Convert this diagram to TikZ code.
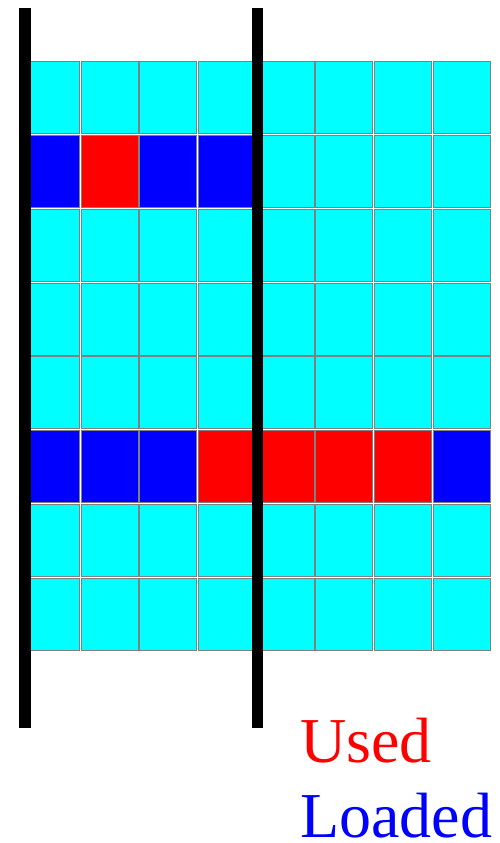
\documentclass[tikz,border=0pt]{standalone}
\usepackage{fontspec}
\setmainfont{Liberation Serif}
\usepackage{tikz}
\definecolor{CellCyan}{RGB}{0,255,255}
\definecolor{CellBlue}{RGB}{0,0,255}
\definecolor{CellRed}{RGB}{255,0,0}
\tikzset{
  % Grid cell: coloured square with a thin grey rim
  cell/.style={fill=#1, draw=gray, line width=0.9pt},
  % Thick black divider
  divider/.style={fill=black},
  % Legend word
  legend/.style={anchor=base west, inner sep=0pt, text=#1,
    font=\fontsize{64}{70}\selectfont}
}
\newcommand{\cellw}{58.7}
\newcommand{\cellh}{73.75}

\begin{document}
\begin{tikzpicture}[x=1pt,y=-1pt]
  \useasboundingbox (0,0) rectangle (500,843);

  % 8 x 8 grid, all cyan first
  \foreach \r in {0,...,7}
    \foreach \c in {0,...,7}
      \filldraw[cell=CellCyan] ({21.5+\c*\cellw+0.9},{61+\r*\cellh+0.9})
        rectangle ({21.5+(\c+1)*\cellw-0.9},{61+(\r+1)*\cellh-0.9});

  % Row 2
  \foreach \c/\col in {0/CellBlue,1/CellRed,2/CellBlue,3/CellBlue}
    \filldraw[cell=\col] ({21.5+\c*\cellw+0.9},{61+1*\cellh+0.9})
      rectangle ({21.5+(\c+1)*\cellw-0.9},{61+2*\cellh-0.9});

  % Row 6
  \foreach \c/\col in {0/CellBlue,1/CellBlue,2/CellBlue,3/CellRed,4/CellRed,5/CellRed,6/CellRed,7/CellBlue}
    \filldraw[cell=\col] ({21.5+\c*\cellw+0.9},{61+5*\cellh+0.9})
      rectangle ({21.5+(\c+1)*\cellw-0.9},{61+6*\cellh-0.9});

  % Dividers
  \fill[divider] (19.3,8) rectangle (31,728);
  \fill[divider] (251.7,8) rectangle (263,728);

  % Legend
  \node[legend=CellRed]  (used)   at (300,762) {Used};
  \node[legend=CellBlue] (loaded) at (300,837) {Loaded};

\end{tikzpicture}
\end{document}
